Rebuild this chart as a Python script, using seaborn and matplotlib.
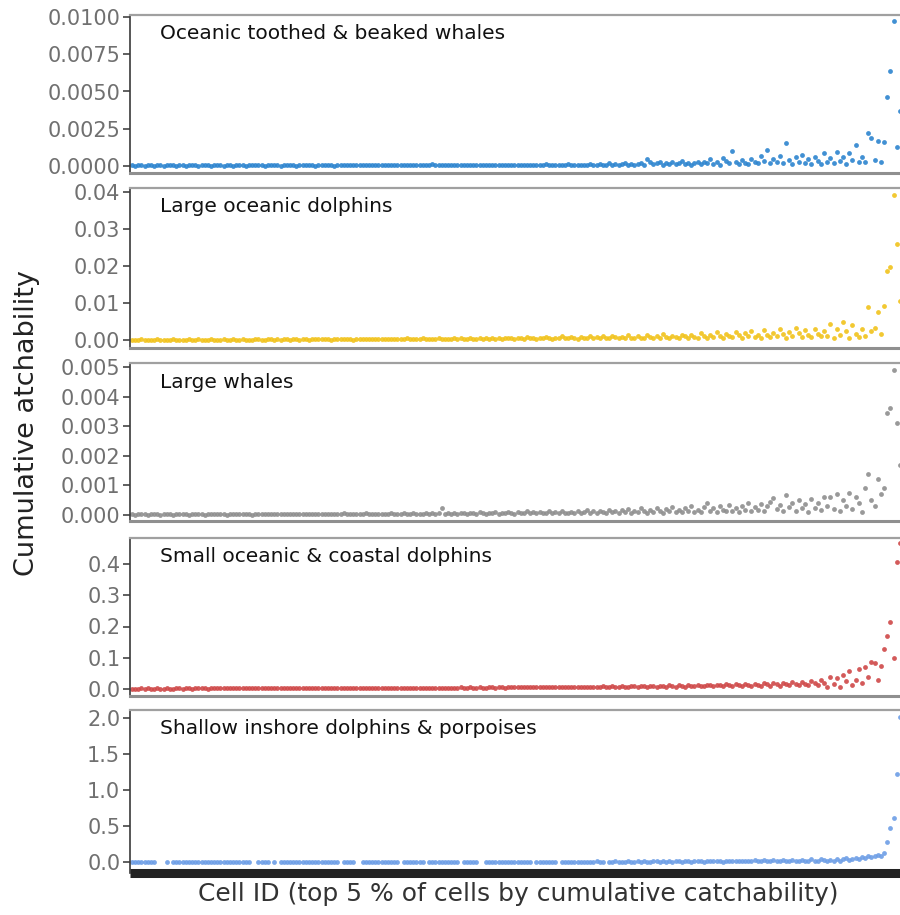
import numpy as np
import pandas as pd
import matplotlib
matplotlib.use("Agg")
import matplotlib.pyplot as plt
from matplotlib.ticker import FormatStrFormatter
import seaborn as sns

nan = np.nan

group_names = [
    "Oceanic toothed & beaked whales",
    "Large oceanic dolphins",
    "Large whales",
    "Small oceanic & coastal dolphins",
    "Shallow inshore dolphins & porpoises",
]

oceanic_toothed = [
    0.00004, 0.00003, 0.00005, 0.00004, 0.00002, 0.00006, 0.00004, 0.00003, 0.00005, 0.00004, 0.00003, 0.00006, 0.00004, 0.00005, 0.00003, 0.00004, 0.00006, 0.00003, 0.00005, 0.00004,
    0.00005, 0.00003, 0.00004, 0.00006, 0.00004, 0.00003, 0.00005, 0.00004, 0.00007, 0.00003, 0.00004, 0.00005, 0.00003, 0.00006, 0.00004, 0.00005, 0.00003, 0.00004, 0.00006, 0.00005,
    0.00004, 0.00006, 0.00003, 0.00005, 0.00004, 0.00007, 0.00004, 0.00003, 0.00005, 0.00006, 0.00004, 0.00005, 0.00003, 0.00004, 0.00008, 0.00005, 0.00004, 0.00006, 0.00003, 0.00005,
    0.00005, 0.00004, 0.00006, 0.00005, 0.00003, 0.00007, 0.00005, 0.00004, 0.00006, 0.00005, 0.00009, 0.00004, 0.00005, 0.00006, 0.00004, 0.00007, 0.00005, 0.00004, 0.00006, 0.00005,
    0.00006, 0.00004, 0.00007, 0.00005, 0.00006, 0.00004, 0.00008, 0.00005, 0.00006, 0.00007, 0.00005, 0.00004, 0.00006, 0.00008, 0.00005, 0.00012, 0.00006, 0.00005, 0.00007, 0.00006,
    0.00005, 0.00007, 0.00006, 0.00008, 0.00005, 0.00006, 0.00009, 0.00006, 0.00005, 0.00007, 0.00008, 0.00006, 0.00005, 0.00009, 0.00007, 0.00006, 0.00008, 0.00005, 0.00007, 0.00006,
    0.00007, 0.00006, 0.00009, 0.00007, 0.00008, 0.00006, 0.0001, 0.00007, 0.00008, 0.00006, 0.00009, 0.00011, 0.00007, 0.00008, 0.00006, 0.0001, 0.00008, 0.00007, 0.00012, 0.00008,
    0.00006, 0.00008, 0.00005, 0.0001, 0.00007, 0.00012, 0.00006, 0.00009, 0.00015, 0.00007, 0.0001, 0.00018, 0.00008, 0.00011, 0.00006, 0.00014, 0.0002, 0.00009, 0.00012, 0.00008,
    0.00015, 0.00022, 0.0001, 0.00045, 0.0003, 0.00012, 0.00018, 0.00025, 0.0001, 0.0002, 0.00014, 0.00028, 0.00012, 0.0002, 0.00035, 0.00015, 0.00022, 0.0001, 0.00018, 0.00026,
    0.00012, 0.0003, 0.0002, 0.00045, 0.00015, 0.00025, 0.0001, 0.00055, 0.00035, 0.00018, 0.001, 0.0003, 0.00015, 0.0004, 0.00022, 0.00012, 0.0005, 0.0003, 0.00018, 0.00065,
    0.00035, 0.0011, 0.00018, 0.00045, 0.00025, 0.0007, 0.0002, 0.00155, 0.0004, 0.00012, 0.0006, 0.0003, 0.00075, 0.0002, 0.00045, 0.00015, 0.0006, 0.00035, 0.00012, 0.00085,
    0.0003, 0.00055, 0.0002, 0.00095, 0.00035, 0.0006, 0.00015, 0.0009, 0.0004, 0.0014, 0.00025, 0.0006, 0.0003, 0.0022, 0.0019, 0.0004, 0.0017, 0.0003, 0.0016, 0.0046, 0.0064, 0.0097, 0.0013, 0.0037,
]

large_oceanic_dolphins = [
    0.0002, 0.0001, 0.0002, 0.0003, 0.0002, 0.0001, 0.0002, 0.0002, 0.0003, 0.0001, 0.0002, 0.0002, 0.0001, 0.0003, 0.0002, 0.0002, 0.0001, 0.0002, 0.0003, 0.0002,
    0.0002, 0.0003, 0.0001, 0.0002, 0.0002, 0.0003, 0.0002, 0.0001, 0.0002, 0.0003, 0.0002, 0.0002, 0.0003, 0.0001, 0.0002, 0.0003, 0.0002, 0.0002, 0.0001, 0.0003,
    0.0003, 0.0002, 0.0002, 0.0003, 0.0004, 0.0002, 0.0003, 0.0002, 0.0003, 0.0004, 0.0002, 0.0003, 0.0003, 0.0002, 0.0004, 0.0003, 0.0002, 0.0003, 0.0004, 0.0003,
    0.0003, 0.0004, 0.0003, 0.0002, 0.0004, 0.0003, 0.0005, 0.0003, 0.0004, 0.0003, 0.0002, 0.0004, 0.0003, 0.0005, 0.0004, 0.0003, 0.0004, 0.0005, 0.0003, 0.0004,
    0.0004, 0.0003, 0.0005, 0.0004, 0.0003, 0.0005, 0.0004, 0.0006, 0.0004, 0.0003, 0.0005, 0.0004, 0.0006, 0.0005, 0.0004, 0.0003, 0.0005, 0.0006, 0.0004, 0.0005,
    0.0005, 0.0004, 0.0006, 0.0005, 0.0007, 0.0004, 0.0005, 0.0006, 0.0005, 0.0004, 0.0007, 0.0005, 0.0006, 0.0004, 0.0008, 0.0005, 0.0006, 0.0005, 0.0007, 0.0006,
    0.0006, 0.0005, 0.0008, 0.0006, 0.0005, 0.0009, 0.0006, 0.0007, 0.0005, 0.0008, 0.0006, 0.0010, 0.0007, 0.0005, 0.0008, 0.0006, 0.0011, 0.0007, 0.0006, 0.0009,
    0.0007, 0.0005, 0.0010, 0.0008, 0.0006, 0.0012, 0.0007, 0.0009, 0.0006, 0.0011, 0.0008, 0.0006, 0.0013, 0.0009, 0.0007, 0.0010, 0.0006, 0.0014, 0.0008, 0.0007,
    0.0011, 0.0008, 0.0006, 0.0015, 0.0009, 0.0007, 0.0012, 0.0008, 0.0018, 0.0010, 0.0007, 0.0013, 0.0009, 0.0006, 0.0016, 0.0011, 0.0008, 0.0014, 0.0009, 0.0007,
    0.0020, 0.0012, 0.0008, 0.0016, 0.0010, 0.0023, 0.0013, 0.0007, 0.0018, 0.0011, 0.0009, 0.0022, 0.0014, 0.0008, 0.0019, 0.0012, 0.0025, 0.0010, 0.0016, 0.0008,
    0.0027, 0.0015, 0.0009, 0.0021, 0.0012, 0.0030, 0.0017, 0.0008, 0.0024, 0.0013, 0.0034, 0.0019, 0.0010, 0.0028, 0.0015, 0.0009, 0.0032, 0.0018, 0.0011, 0.0026,
    0.0012, 0.0045, 0.0008, 0.0030, 0.0015, 0.0050, 0.0025, 0.0006, 0.0042, 0.0018, 0.0009, 0.0032, 0.0012, 0.0090, 0.0025, 0.0035, 0.0077, 0.0018, 0.0093, 0.0187, 0.0198, 0.0392, 0.0260, 0.0106,
]

large_whales = [
    0.00002, 0.00001, 0.00002, 0.00003, 0.00002, 0.00001, 0.00002, 0.00002, 0.00003, 0.00001, 0.00002, 0.00003, 0.00002, 0.00001, 0.00002, 0.00003, 0.00002, 0.00002, 0.00001, 0.00003,
    0.00002, 0.00003, 0.00002, 0.00001, 0.00003, 0.00002, 0.00002, 0.00004, 0.00002, 0.00003, 0.00001, 0.00002, 0.00003, 0.00002, 0.00004, 0.00002, 0.00003, 0.00002, 0.00001, 0.00003,
    0.00003, 0.00002, 0.00004, 0.00003, 0.00002, 0.00003, 0.00005, 0.00002, 0.00003, 0.00004, 0.00002, 0.00003, 0.00004, 0.00003, 0.00002, 0.00005, 0.00003, 0.00004, 0.00002, 0.00003,
    0.00004, 0.00003, 0.00002, 0.00005, 0.00003, 0.00004, 0.00003, 0.00006, 0.00003, 0.00004, 0.00002, 0.00005, 0.00004, 0.00003, 0.00006, 0.00004, 0.00003, 0.00005, 0.00004, 0.00003,
    0.00005, 0.00003, 0.00006, 0.00004, 0.00005, 0.00003, 0.00007, 0.00004, 0.00005, 0.00006, 0.00004, 0.00005, 0.00003, 0.00006, 0.00005, 0.00008, 0.00004, 0.00006, 0.00022, 0.00005,
    0.00006, 0.00004, 0.00007, 0.00005, 0.00006, 0.00008, 0.00004, 0.00006, 0.00007, 0.00005, 0.00009, 0.00006, 0.00005, 0.00008, 0.00006, 0.0001, 0.00005, 0.00007, 0.00006, 0.00009,
    0.00007, 0.00005, 0.0001, 0.00006, 0.00008, 0.00012, 0.00006, 0.00009, 0.00007, 0.00011, 0.00006, 0.00008, 0.00013, 0.00007, 0.0001, 0.00006, 0.00012, 0.00008, 0.00007, 0.00011,
    0.00008, 0.00014, 0.00006, 0.0001, 0.00016, 0.00008, 0.00012, 0.00007, 0.00015, 0.0001, 0.00006, 0.00018, 0.00009, 0.00012, 0.00007, 0.00016, 0.0001, 0.0002, 0.00008, 0.00013,
    0.0001, 0.00022, 0.00012, 0.00007, 0.00018, 0.0001, 0.00025, 0.00014, 0.00008, 0.0002, 0.00012, 0.00028, 0.0001, 0.00016, 0.00009, 0.00024, 0.00013, 0.0003, 0.00011, 0.00018,
    0.0001, 0.00026, 0.0004, 0.00015, 0.00022, 0.00009, 0.0003, 0.00018, 0.00012, 0.00035, 0.00014, 0.00025, 0.0001, 0.00032, 0.00018, 0.00042, 0.00012, 0.00028, 0.00016, 0.00038,
    0.00013, 0.0003, 0.00045, 0.00057, 0.0002, 0.00035, 0.00012, 0.00068, 0.00028, 0.0004, 0.00015, 0.0005, 0.00022, 0.00036, 0.00011, 0.00055, 0.00025, 0.00042, 0.00018, 0.0006,
    0.0003, 0.0006, 0.0002, 0.0007, 0.00015, 0.0005, 0.0003, 0.00075, 0.0002, 0.0006, 0.0004, 0.0001, 0.0009, 0.0014, 0.0005, 0.0003, 0.0012, 0.0007, 0.0009, 0.00345, 0.0036, 0.0049, 0.0031, 0.0017,
]

small_oceanic_coastal = [
    0.001, 0.0015, 0.001, 0.002, 0.0012, 0.0018, 0.0015, 0.001, 0.002, 0.0015, 0.0012, 0.0022, 0.0016, 0.0014, 0.002, 0.0017, 0.0013, 0.0021, 0.0018, 0.0015,
    0.002, 0.0017, 0.0023, 0.0019, 0.0016, 0.0024, 0.002, 0.0018, 0.0025, 0.0021, 0.0017, 0.0023, 0.0026, 0.002, 0.0022, 0.0019, 0.0027, 0.0023, 0.002, 0.0025,
    0.0024, 0.0021, 0.0028, 0.0025, 0.0022, 0.003, 0.0026, 0.0023, 0.0029, 0.0027, 0.0024, 0.0031, 0.0026, 0.0029, 0.0025, 0.0032, 0.0028, 0.0026, 0.0033, 0.0029,
    0.003, 0.0027, 0.0034, 0.0031, 0.0028, 0.0035, 0.0032, 0.0029, 0.0036, 0.0033, 0.003, 0.0037, 0.0034, 0.0031, 0.0038, 0.0035, 0.0032, 0.0039, 0.0036, 0.0033,
    0.0037, 0.0034, 0.004, 0.0038, 0.0035, 0.0042, 0.0039, 0.0036, 0.0043, 0.004, 0.0037, 0.0045, 0.0041, 0.0038, 0.0046, 0.0042, 0.0039, 0.0047, 0.0044, 0.004,
    0.0045, 0.0041, 0.0048, 0.0044, 0.005, 0.0046, 0.0042, 0.0051, 0.0047, 0.0044, 0.0053, 0.0048, 0.0045, 0.0055, 0.005, 0.0046, 0.0056, 0.0051, 0.0048, 0.0058,
    0.0052, 0.0049, 0.006, 0.0054, 0.005, 0.0062, 0.0056, 0.0051, 0.0064, 0.0058, 0.0053, 0.0066, 0.006, 0.0055, 0.0068, 0.0062, 0.0057, 0.007, 0.0064, 0.0059,
    0.0072, 0.0063, 0.0058, 0.0075, 0.0067, 0.006, 0.0079, 0.007, 0.0062, 0.0083, 0.0073, 0.0064, 0.0087, 0.0076, 0.0066, 0.009, 0.0079, 0.0068, 0.0094, 0.0082,
    0.007, 0.0098, 0.0085, 0.0072, 0.0103, 0.0088, 0.0074, 0.0108, 0.0092, 0.0076, 0.0113, 0.0096, 0.0078, 0.0118, 0.01, 0.008, 0.0124, 0.0104, 0.0083, 0.013,
    0.0108, 0.0086, 0.0136, 0.0113, 0.0089, 0.0143, 0.0118, 0.0092, 0.015, 0.0123, 0.0095, 0.0158, 0.0128, 0.0098, 0.0166, 0.0134, 0.0101, 0.0175, 0.014, 0.0105,
    0.0185, 0.0146, 0.0109, 0.0195, 0.0152, 0.0112, 0.0206, 0.016, 0.0116, 0.022, 0.0168, 0.012, 0.0235, 0.0176, 0.0125, 0.025, 0.0185, 0.013, 0.028, 0.0195,
    0.008, 0.04, 0.015, 0.035, 0.005, 0.045, 0.025, 0.058, 0.012, 0.03, 0.065, 0.02, 0.07, 0.04, 0.086, 0.083, 0.029, 0.074, 0.128, 0.17, 0.214, 0.099, 0.406, 0.467,
]

shallow_inshore = [
    0.003, 0.002, 0.004, 0.003, 0.002, 0.003, 0.004, 0.002, nan, nan, nan, 0.003, nan, 0.002, 0.003, 0.004, 0.002, 0.003, 0.003, 0.002,
    0.003, 0.004, 0.002, 0.003, 0.003, 0.002, 0.004, 0.003, 0.002, 0.003, 0.004, 0.003, 0.002, 0.003, 0.004, 0.002, 0.003, 0.003, nan, nan,
    0.003, 0.002, 0.004, 0.003, nan, 0.003, nan, 0.002, 0.003, 0.004, 0.003, 0.002, 0.003, 0.004, 0.003, 0.002, 0.004, 0.003, 0.003, 0.002,
    0.003, 0.004, 0.003, 0.002, 0.004, 0.003, nan, 0.003, 0.004, 0.002, 0.003, nan, nan, 0.003, 0.004, 0.003, 0.002, 0.004, 0.003, 0.003,
    0.004, 0.003, 0.002, 0.004, 0.003, nan, 0.003, 0.004, 0.003, 0.002, 0.004, 0.003, 0.003, nan, 0.004, 0.003, 0.002, 0.004, 0.003, 0.004,
    0.003, 0.004, 0.003, 0.005, nan, 0.003, 0.004, 0.003, 0.005, 0.004, nan, nan, 0.004, 0.003, 0.005, 0.004, 0.003, 0.004, 0.005, 0.003,
    0.004, 0.005, 0.003, 0.004, 0.005, 0.004, 0.003, nan, 0.005, 0.004, 0.003, 0.005, 0.004, 0.006, 0.004, nan, 0.005, 0.004, 0.003, 0.005,
    0.004, 0.006, 0.005, 0.004, 0.006, 0.005, 0.004, 0.007, 0.005, 0.004, nan, 0.006, 0.005, 0.007, 0.004, 0.006, 0.005, 0.008, 0.006, 0.005,
    0.007, 0.005, 0.008, 0.006, 0.005, 0.009, 0.007, 0.005, 0.01, 0.006, 0.008, 0.005, 0.011, 0.007, 0.006, 0.012, 0.008, 0.006, 0.013, 0.007,
    0.009, 0.006, 0.014, 0.008, 0.007, 0.015, 0.009, 0.006, 0.016, 0.01, 0.007, 0.018, 0.011, 0.008, 0.02, 0.012, 0.008, 0.022, 0.013, 0.009,
    0.024, 0.014, 0.009, 0.026, 0.015, 0.01, 0.028, 0.016, 0.011, 0.03, 0.018, 0.012, 0.033, 0.019, 0.013, 0.035, 0.02, 0.014, 0.038, 0.022,
    0.01, 0.03, 0.015, 0.04, 0.02, 0.035, 0.05, 0.025, 0.045, 0.06, 0.04, 0.07, 0.055, 0.08, 0.065, 0.09, 0.1, 0.08, 0.12, 0.28, 0.47, 0.61, 1.22, 2.02,
]

cell_id = list(range(1, len(oceanic_toothed) + 1))

y_ticks = [
    [0.0, 0.0025, 0.005, 0.0075, 0.01],
    [0.0, 0.01, 0.02, 0.03, 0.04],
    [0.0, 0.001, 0.002, 0.003, 0.004, 0.005],
    [0.0, 0.1, 0.2, 0.3, 0.4],
    [0.0, 0.5, 1.0, 1.5, 2.0],
]
tick_formats = ["%.4f", "%.2f", "%.3f", "%.1f", "%.1f"]
colors = ["#2c84cf", "#f1c21b", "#8e8e8e", "#cf4848", "#6d9ee6"]

series = [oceanic_toothed, large_oceanic_dolphins, large_whales,
          small_oceanic_coastal, shallow_inshore]

df = pd.concat(
    [pd.DataFrame({"cell": cell_id, "value": vals, "group": name})
     for name, vals in zip(group_names, series)],
    ignore_index=True,
)

sns.set_theme(style="white")
plt.rcParams["font.family"] = ["DejaVu Sans"]

W, H = 900, 915
fig = plt.figure(figsize=(W / 100, H / 100), dpi=100)

# layout in pixels: (frame top, frame bottom, y of zero tick, y of top tick)
layout = [
    (15, 173, 166, 17),
    (188, 348, 340.5, 192),
    (363, 521, 515, 367),
    (538, 696, 689, 564),
    (710, 873, 862, 718),
]

left_px, right_px = 130, 910
for k, (name, color, ticks, fmt, (top, bot, y0, y1)) in enumerate(
        zip(group_names, colors, y_ticks, tick_formats, layout)):
    ax = fig.add_axes([left_px / W, 1 - bot / H, (right_px - left_px) / W, (bot - top) / H])
    sub = df[df["group"] == name].dropna()
    sns.scatterplot(data=sub, x="cell", y="value", color=color, s=12,
                    linewidth=0, alpha=0.9, ax=ax, legend=False)
    tmax = ticks[-1] if k != 3 else 0.4
    per_px = tmax / (y0 - y1)
    ax.set_ylim(-(bot - y0) * per_px, tmax + (y1 - top) * per_px)
    ax.set_xlim(0.37, 247.2)
    ax.set_yticks(ticks)
    ax.yaxis.set_major_formatter(FormatStrFormatter(fmt))
    ax.set_xticks([])
    ax.set_xlabel("")
    ax.set_ylabel("")
    ax.tick_params(axis="y", left=True, length=5, width=1.2, color="#444444",
                   labelsize=15, labelcolor="#707070", pad=2)
    ax.spines["left"].set_color("#3a3a3a")
    ax.spines["left"].set_linewidth(1.2)
    ax.spines["top"].set_color("#a0a0a0")
    ax.spines["top"].set_linewidth(1.6)
    ax.spines["right"].set_visible(False)
    if k == 4:
        ax.spines["bottom"].set_color("#222222")
        ax.spines["bottom"].set_linewidth(6.5)
        ax.spines["bottom"].set_capstyle("butt")
    else:
        ax.spines["bottom"].set_color("#8f8f8f")
        ax.spines["bottom"].set_linewidth(2.2)
    hpx = bot - top
    ax.text((160 - left_px) / (right_px - left_px), 1 - 19 / hpx, name,
            transform=ax.transAxes, ha="left", va="center",
            fontsize=14.5, color="#111111")

fig.text(27 / W, 1 - 423 / H, "Cumulative atchability", rotation=90,
         ha="center", va="center", fontsize=19.5, color="#222222")
fig.text(518 / W, 1 - 894 / H,
         "Cell ID (top 5 % of cells by cumulative catchability)",
         ha="center", va="center", fontsize=18, color="#333333")

fig.savefig("out.png", dpi=100)
